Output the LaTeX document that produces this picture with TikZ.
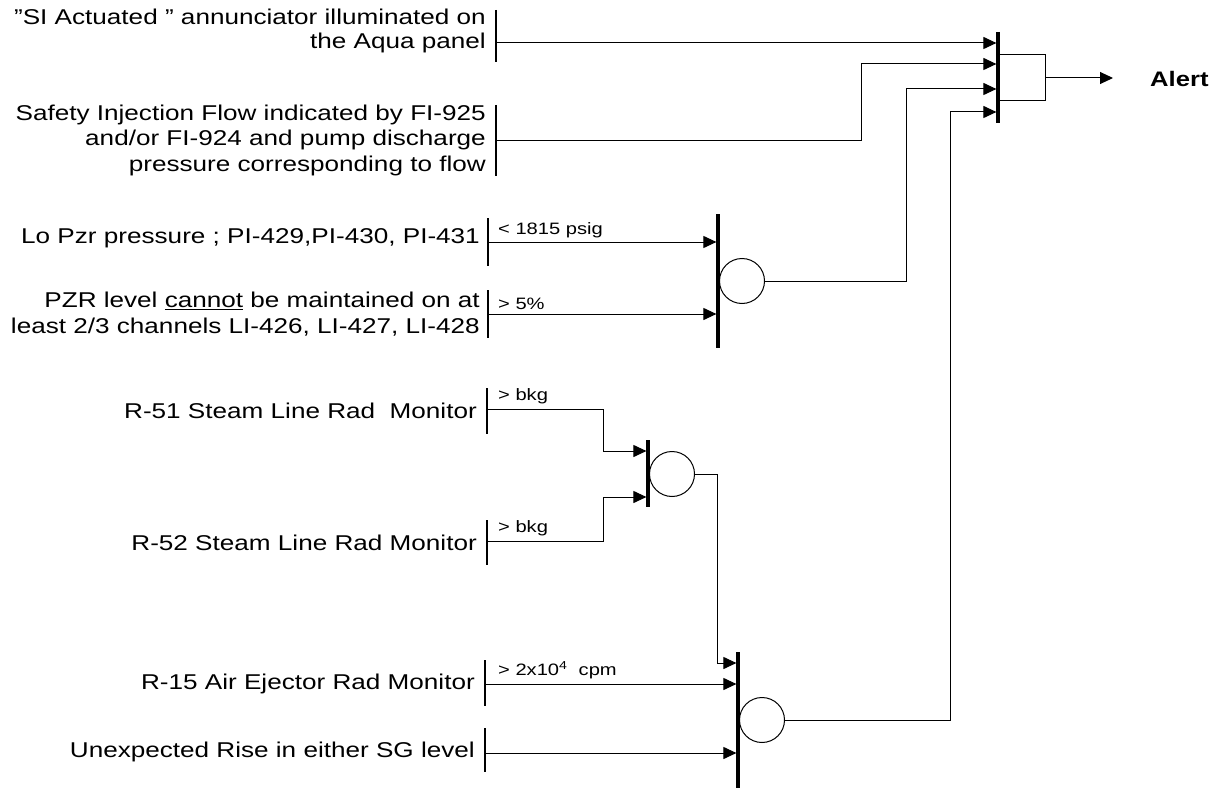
\documentclass[tikz,border=0pt]{standalone}
\usepackage{fontspec}
\setmainfont[FakeStretch=1.22]{Liberation Sans}
\usetikzlibrary{arrows.meta}
\begin{document}
\begin{tikzpicture}[x=1pt,y=-1pt,
  conn/.style={line width=1pt},
  arr/.style={conn,-{Triangle[length=13pt,width=12pt]}},
  inbar/.style={line width=1.6pt},
  gatebar/.style={line width=3.2pt},
  gatecirc/.style={circle,draw,line width=1pt,minimum size=45pt,inner sep=0pt},
  lab/.style={font=\fontsize{21.4}{25.5}\selectfont,align=right,anchor=east,inner sep=0pt},
  cond/.style={font=\fontsize{16.5}{18}\selectfont,anchor=south west,inner sep=0pt}]
\useasboundingbox (0,0) rectangle (1220,789);

% ---------- input texts ----------
\node[lab,font=\fontsize{21.4}{23.5}\selectfont] (tSI) at (486,31) {\symbol{"22}SI Actuated \symbol{"22} annunciator illuminated on\\the Aqua panel};
\node[lab] (tSF) at (486,140) {Safety Injection Flow indicated by FI-925\\and/or FI-924 and pump discharge\\pressure corresponding to flow};
\node[lab] (tLP) at (480,238) {Lo Pzr pressure ; PI-429,PI-430, PI-431};
\node[lab] (tPZ) at (480,314) {PZR level \underline{cannot} be maintained on at\\least 2/3 channels LI-426, LI-427, LI-428};
\node[lab] (tR51) at (477,411) {R-51 Steam Line Rad\ \ Monitor};
\node[lab] (tR52) at (477,543) {R-52 Steam Line Rad Monitor};
\node[lab] (tR15) at (475,684) {R-15 Air Ejector Rad Monitor};
\node[lab] (tSG) at (475,752) {Unexpected Rise in either SG level};

% ---------- input bars ----------
\draw[inbar] (496,10) -- (496,62);
\draw[inbar] (496,105) -- (496,176);
\draw[inbar] (488,218) -- (488,266);
\draw[inbar] (488,290) -- (488,338);
\draw[inbar] (487,388) -- (487,434);
\draw[inbar] (487,520) -- (487,565);
\draw[inbar] (485,660) -- (485,706);
\draw[inbar] (485,728) -- (485,772);

\coordinate (S1) at (496,43);
\coordinate (S2) at (496,140);
\coordinate (S3) at (488,242);
\coordinate (S4) at (488,314);
\coordinate (S5) at (487,409);
\coordinate (S6) at (487,541);
\coordinate (S7) at (485,684);
\coordinate (S8) at (485,753);

% ---------- condition labels ----------
\node[cond] (c3) at (498,238) {< 1815 psig};
\node[cond] (c4) at (498,310) {> 5\%};
\node[cond] (c5) at (498,404) {> bkg};
\node[cond] (c6) at (498,536) {> bkg};
\node[cond] (c7) at (498,679) {> 2x10\textsuperscript{4}\ \ cpm};

% ---------- final gate ----------
\draw[gatebar] (998,32) -- (998,123);
\node[draw,line width=1pt,minimum width=46pt,minimum height=46pt,inner sep=0pt] (box) at (1022,78) {};
\node[font=\bfseries\fontsize{21}{25}\selectfont,anchor=west,inner sep=0pt] (alert) at (1150,79) {Alert};
\draw[arr,shorten >=37pt] (box.east) -- (box.east -| alert.west);
\coordinate (G1a) at (996.4,43);
\coordinate (G1b) at (996.4,64);
\coordinate (G1c) at (996.4,89);
\coordinate (G1d) at (996.4,112);

% ---------- gate 2 (pressure / level) ----------
\draw[gatebar] (718,214) -- (718,348);
\node[gatecirc] (g2c) at (742,281) {};
\coordinate (G2a) at (716.4,242);
\coordinate (G2b) at (716.4,314);

% ---------- gate 3 (R-51 / R-52) ----------
\draw[gatebar] (648,440) -- (648,507);
\node[gatecirc] (g3c) at (672,474) {};
\coordinate (G3a) at (646.4,451);
\coordinate (G3b) at (646.4,497);

% ---------- gate 4 ----------
\draw[gatebar] (738,652) -- (738,788);
\node[gatecirc] (g4c) at (762,720) {};
\coordinate (G4a) at (736.4,663);
\coordinate (G4b) at (736.4,684);
\coordinate (G4c) at (736.4,753);

% ---------- elbows ----------
\coordinate (E2) at (861,64);
\coordinate (E3) at (906,89);
\coordinate (E4) at (950,112);
\coordinate (E5) at (603,451);
\coordinate (E6) at (603,497);
\coordinate (E7) at (717,663);

% ---------- connectors ----------
\draw[arr] (S1) -- (G1a);
\draw[arr] (S2) -| (E2) -- (G1b);
\draw[arr] (g2c.east) -| (E3) -- (G1c);
\draw[arr] (g4c.east) -| (E4) -- (G1d);
\draw[arr] (S3) -- (G2a);
\draw[arr] (S4) -- (G2b);
\draw[arr] (S5) -| (E5) -- (G3a);
\draw[arr] (S6) -| (E6) -- (G3b);
\draw[arr] (g3c.east) -| (E7) -- (G4a);
\draw[arr] (S7) -- (G4b);
\draw[arr] (S8) -- (G4c);
\end{tikzpicture}
\end{document}
